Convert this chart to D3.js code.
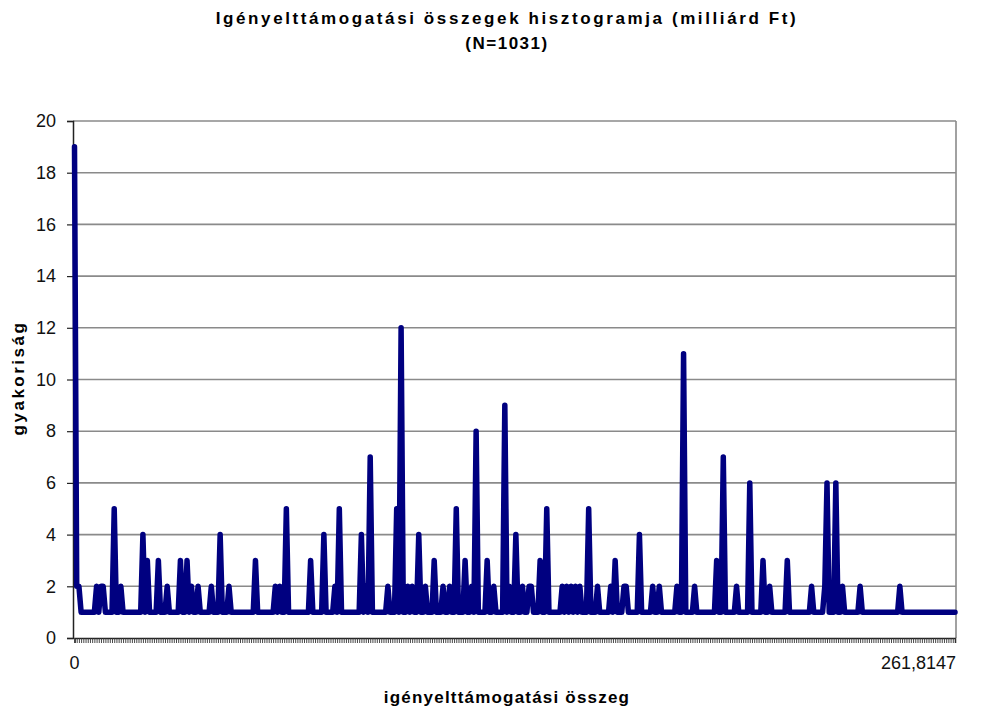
<!DOCTYPE html>
<html>
<head>
<meta charset="utf-8">
<script src="https://cdn.jsdelivr.net/npm/d3@7"></script>
<style>
	body { margin: 0; background: #fff; }
	text { font-family: "Liberation Sans", Arial, sans-serif; }
</style>
</head>
<body>
<svg id="chart" width="1008" height="713"></svg>
<script>
// number of distinct amounts (categories) on the x axis
var categoryCount = 400;
var firstLabel = "0";
var lastLabel = "261,8147";
var yTicks = [0, 2, 4, 6, 8, 10, 12, 14, 16, 18, 20];

// categories whose frequency is above the flat level of 1 (index, frequency)
var peakIndex = [0, 1, 2, 10, 12, 13, 18, 21, 31, 33, 38, 42, 48, 51, 53, 56, 62, 66, 70,
	82, 91, 93, 96, 107, 113, 118, 120, 130, 132, 134, 142, 146, 148, 151, 153, 156, 159, 163,
	167, 170, 173, 177, 180, 182, 187, 190, 195, 197, 200, 203, 206, 207, 211, 214, 221, 223, 225,
	227, 229, 233, 237, 243, 245, 249, 250, 256, 262, 265, 273, 276, 281, 291, 294, 300, 306, 312,
	315, 323, 334, 340, 341, 345, 348, 356, 374];
var peakFreq = [19, 2, 2, 2, 2, 2, 5, 2, 4, 3, 3, 2, 3, 3, 2, 2, 2, 4, 2,
	3, 2, 2, 5, 3, 4, 2, 5, 4, 2, 7, 2, 5, 12, 2, 2, 4, 2, 3,
	2, 2, 5, 3, 2, 8, 3, 2, 9, 2, 4, 2, 2, 2, 3, 5, 2, 2, 2,
	2, 2, 5, 2, 2, 3, 2, 2, 4, 2, 2, 2, 11, 2, 3, 7, 2, 6, 3,
	2, 3, 2, 2, 6, 6, 2, 2, 2];
var baseFreq = 1;

var data = [];
for (var i = 0; i < categoryCount; i++) {
	data.push({ idx: i, freq: baseFreq });
}
for (var j = 0; j < peakIndex.length; j++) {
	data[peakIndex[j]].freq = peakFreq[j];
}

var svg = d3.select("#chart"),
	plotLeft = 73, plotRight = 956, plotTop = 121, plotBottom = 638;

var x = d3.scaleLinear().domain([0, categoryCount - 1]).range([plotLeft + 1.5, plotRight - 1]);
var y = d3.scaleLinear().domain([0, 20]).range([plotBottom, plotTop]);

// titles
svg.append("text")
	.attr("x", 507).attr("y", 24)
	.attr("text-anchor", "middle")
	.attr("font-size", 17).attr("font-weight", "bold")
	.attr("letter-spacing", 2.6)
	.text("Igényelttámogatási összegek hisztogramja (milliárd Ft)");
svg.append("text")
	.attr("x", 507).attr("y", 49)
	.attr("text-anchor", "middle")
	.attr("font-size", 17).attr("font-weight", "bold")
	.attr("letter-spacing", 1.5)
	.text("(N=1031)");

// gridlines
svg.append("g")
	.selectAll("line")
	.data(yTicks.filter(function(d) { return d > 0; }))
	.enter().append("line")
	.attr("x1", plotLeft).attr("x2", plotRight)
	.attr("y1", function(d) { return y(d); })
	.attr("y2", function(d) { return y(d); })
	.attr("stroke", "#8a8a8a")
	.attr("stroke-width", 1.6);

// right border of plot area
svg.append("line")
	.attr("x1", plotRight).attr("x2", plotRight)
	.attr("y1", plotTop).attr("y2", plotBottom)
	.attr("stroke", "#8a8a8a").attr("stroke-width", 1.6);

// y axis
var yAxis = svg.append("g")
	.attr("transform", "translate(" + plotLeft + ",0)")
	.call(d3.axisLeft(y).tickValues(yTicks).tickSize(6).tickPadding(11));
yAxis.select(".domain").attr("stroke", "#222").attr("stroke-width", 1.5);
yAxis.selectAll(".tick line").attr("stroke", "#222").attr("stroke-width", 1.2);
yAxis.selectAll(".tick text")
	.attr("font-size", 18)
	.attr("fill", "#111")
	.attr("font-family", "Liberation Sans, Arial, sans-serif");

// x axis with a tick on every category
var xTicks = d3.range(0, categoryCount);
var xAxis = svg.append("g")
	.attr("transform", "translate(0," + plotBottom + ")")
	.call(d3.axisBottom(x).tickValues(xTicks).tickSize(5).tickFormat(""));
xAxis.select(".domain").attr("stroke", "#222").attr("stroke-width", 1.5);
xAxis.selectAll(".tick line").attr("stroke", "#333").attr("stroke-width", 0.9);

svg.append("text")
	.attr("x", x(0)).attr("y", 669)
	.attr("text-anchor", "middle")
	.attr("font-size", 18).attr("fill", "#111")
	.text(firstLabel);
svg.append("text")
	.attr("x", plotRight).attr("y", 669)
	.attr("text-anchor", "end")
	.attr("font-size", 18).attr("fill", "#111")
	.text(lastLabel);

// axis titles
svg.append("text")
	.attr("x", 507).attr("y", 703)
	.attr("text-anchor", "middle")
	.attr("font-size", 17).attr("font-weight", "bold")
	.attr("letter-spacing", 1.2)
	.text("igényelttámogatási összeg");
svg.append("text")
	.attr("transform", "translate(24,378) rotate(-90)")
	.attr("text-anchor", "middle")
	.attr("font-size", 17).attr("font-weight", "bold")
	.attr("letter-spacing", 2.5)
	.text("gyakoriság");

// the frequency line
var line = d3.line()
	.x(function(d) { return x(d.idx); })
	.y(function(d) { return y(d.freq); });

svg.append("path")
	.datum(data)
	.attr("d", line)
	.attr("fill", "none")
	.attr("stroke", "#000080")
	.attr("stroke-width", 5.5)
	.attr("stroke-linejoin", "round")
	.attr("stroke-linecap", "round");
</script>
</body>
</html>
